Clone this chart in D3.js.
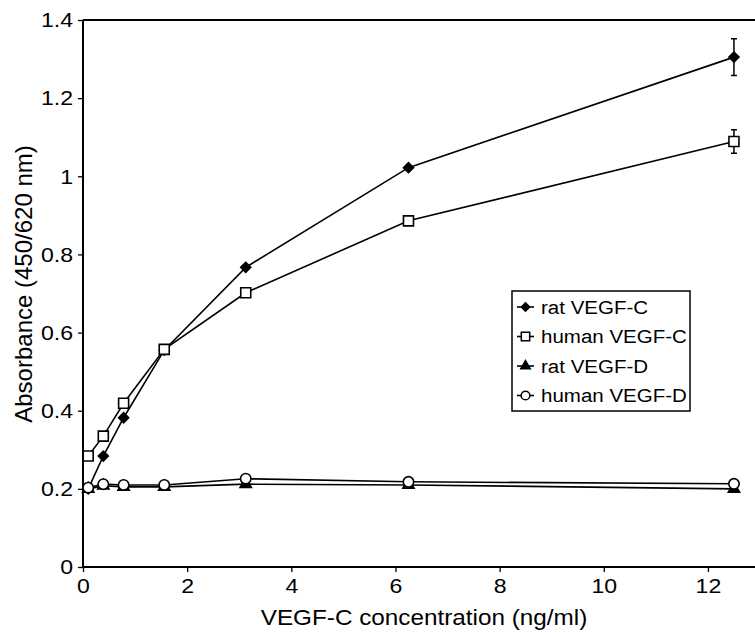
<!DOCTYPE html>
<html>
<head>
<meta charset="utf-8">
<script src="https://cdn.jsdelivr.net/npm/d3@7"></script>
<style>
  html, body { margin: 0; padding: 0; background: #fff; }
  svg { display: block; font-family: "Liberation Sans", Arial, sans-serif; }
</style>
</head>
<body>
<svg id="chart" width="755" height="632"></svg>
<script>
// ---- data ----
const concentrations = [0.1, 0.39, 0.78, 1.56, 3.125, 6.25, 12.5];
const seriesNames = ["rat VEGF-C", "human VEGF-C", "rat VEGF-D", "human VEGF-D"];
const ratVEGFC   = [0.20, 0.284, 0.382, 0.555, 0.767, 1.022, 1.305];
const humanVEGFC = [0.284, 0.335, 0.419, 0.557, 0.702, 0.886, 1.089];
const ratVEGFD   = [0.20, 0.208, 0.205, 0.205, 0.212, 0.210, 0.200];
const humanVEGFD = [0.203, 0.212, 0.210, 0.210, 0.226, 0.218, 0.213];
const ratVEGFCErr   = [0, 0, 0, 0, 0, 0, 0.047];
const humanVEGFCErr = [0, 0, 0, 0, 0, 0, 0.030];
const xTicks = [0, 2, 4, 6, 8, 10, 12];
const yTicks = [0, 0.2, 0.4, 0.6, 0.8, 1, 1.2, 1.4];
const xTitle = "VEGF-C concentration (ng/ml)";
const yTitle = "Absorbance (450/620 nm)";

const svg = d3.select("#chart");
const x = d3.scaleLinear().domain([0, 13]).range([83, 760]);
const y = d3.scaleLinear().domain([0, 1.4]).range([567, 20]);
const FONT = '"Liberation Sans", Arial, sans-serif';

// frame top line
svg.append("line").attr("x1", x(0)).attr("x2", 760).attr("y1", y(1.4)).attr("y2", y(1.4))
  .attr("stroke", "#000").attr("stroke-width", 2);

// axes
const xAxis = svg.append("g").attr("transform", `translate(0,${y(0)})`)
  .call(d3.axisBottom(x).tickValues(xTicks).tickSize(5).tickPadding(5).tickFormat(d3.format("d")));
const yAxis = svg.append("g").attr("transform", `translate(${x(0)},0)`)
  .call(d3.axisLeft(y).tickValues(yTicks).tickSize(5).tickPadding(5).tickFormat(d => d === 0 ? "0" : d3.format("")(d)));
[xAxis, yAxis].forEach(g => {
  g.select(".domain").attr("stroke", "#000").attr("stroke-width", 2);
  g.selectAll(".tick line").attr("stroke", "#000").attr("stroke-width", 1.3);
  g.selectAll(".tick text").attr("fill", "#000").style("font-size", "21px").style("font-family", FONT)
    .attr("transform", "scale(1.1,1)");
});
xAxis.select(".domain").attr("d", `M${x(0)},0H760`);
yAxis.select(".domain").attr("d", `M0,${y(0)}V${y(1.4)}`);
xAxis.selectAll(".tick text").attr("dy", "0.75em");
yAxis.selectAll(".tick text").attr("x", -10 / 1.1);

// titles
svg.append("text").attr("transform", "translate(424,625) scale(1.08,1)").attr("text-anchor", "middle")
  .style("font-size", "22.5px").text(xTitle);
svg.append("text").attr("transform", "translate(32,284) rotate(-90)").attr("text-anchor", "middle")
  .style("font-size", "24px").text(yTitle);

const series = [
  { name: seriesNames[0], vals: ratVEGFC, err: ratVEGFCErr, sym: d3.symbolSquare, size: 50, rot: 45, fill: "#000" },
  { name: seriesNames[1], vals: humanVEGFC, err: humanVEGFCErr, sym: d3.symbolSquare, size: 100, rot: 0, fill: "#fff" },
  { name: seriesNames[2], vals: ratVEGFD, err: null, sym: d3.symbolTriangle, size: 55, rot: 0, fill: "#000" },
  { name: seriesNames[3], vals: humanVEGFD, err: null, sym: d3.symbolCircle, size: 85, rot: 0, fill: "#fff" }
];

const line = d3.line().x(d => x(d[0])).y(d => y(d[1]));
[2, 3, 0, 1].forEach(i => {
  const s = series[i];
  const pts = concentrations.map((c, k) => [c, s.vals[k], s.err ? s.err[k] : 0]);
  svg.append("path").attr("d", line(pts)).attr("fill", "none").attr("stroke", "#000").attr("stroke-width", 1.6);
  pts.filter(p => p[2] > 0).forEach(p => {
    const g = svg.append("g").attr("stroke", "#000").attr("stroke-width", 1.5);
    g.append("line").attr("x1", x(p[0])).attr("x2", x(p[0])).attr("y1", y(p[1] - p[2])).attr("y2", y(p[1] + p[2]));
    [p[1] - p[2], p[1] + p[2]].forEach(v =>
      g.append("line").attr("x1", x(p[0]) - 3).attr("x2", x(p[0]) + 3).attr("y1", y(v)).attr("y2", y(v)));
  });
});
[2, 0, 1, 3].forEach(i => {
  const s = series[i];
  svg.append("g").selectAll("path").data(concentrations.map((c, k) => [c, s.vals[k]])).join("path")
    .attr("transform", d => `translate(${x(d[0])},${y(d[1])}) rotate(${s.rot})`)
    .attr("d", d3.symbol().type(s.sym).size(s.size))
    .attr("fill", s.fill).attr("stroke", "#000").attr("stroke-width", 1.6);
});

// legend
const lg = svg.append("g");
lg.append("rect").attr("x", 512).attr("y", 291).attr("width", 178).attr("height", 120)
  .attr("fill", "#fff").attr("stroke", "#000").attr("stroke-width", 1.5);
series.forEach((s, i) => {
  const cy = 307 + i * 29.5;
  lg.append("line").attr("x1", 517).attr("x2", 534).attr("y1", cy).attr("y2", cy)
    .attr("stroke", "#000").attr("stroke-width", 1.6);
  lg.append("path").attr("transform", `translate(525.5,${cy}) rotate(${s.rot})`)
    .attr("d", d3.symbol().type(s.sym).size(s.size * 0.7))
    .attr("fill", s.fill).attr("stroke", "#000").attr("stroke-width", 1.5);
  lg.append("text").attr("transform", `translate(541,${cy}) scale(1.08,1)`).attr("dy", "0.36em")
    .style("font-size", "19px").text(s.name);
});
</script>
</body>
</html>
